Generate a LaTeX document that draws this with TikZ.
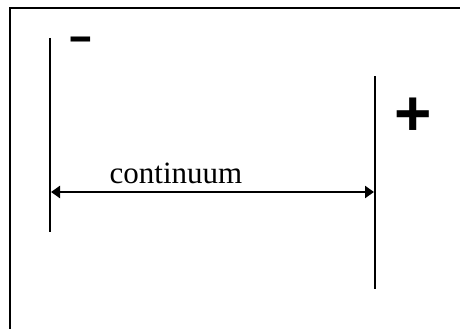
\documentclass[tikz,border=0pt]{standalone}
\usepackage{fontspec}
\setmainfont{Liberation Serif}
\newfontfamily\signfont{Liberation Sans}
\usetikzlibrary{arrows.meta}
\begin{document}
\begin{tikzpicture}[x=1pt,y=-1pt,
  frameline/.style={line width=2.8pt},
  bar/.style={line width=2.8pt},
  span/.style={line width=2.8pt,{Triangle[length=9pt,width=12pt]}-{Triangle[length=9pt,width=12pt]}},
  lbl/.style={inner sep=0pt,font=\fontsize{31}{31}\selectfont},
  sign/.style={inner sep=0pt,font=\signfont\fontsize{64}{64}\selectfont},
  boldsign/.style={inner sep=0pt,font=\signfont\bfseries\fontsize{64}{64}\selectfont}]
\useasboundingbox (0,0) rectangle (460,329);
\coordinate (ftop) at (460,8);
\coordinate (fcorner) at (10,8);
\coordinate (fbot) at (10,329);
\draw[frameline] (ftop) -- (fcorner) -- (fbot);
\coordinate (lt) at (50,38);
\coordinate (lb) at (50,232);
\coordinate (rt) at (375,76);
\coordinate (rb) at (375,289);
\draw[bar] (lt) -- (lb);
\draw[bar] (rt) -- (rb);
\coordinate (al) at (51,192);
\coordinate (ar) at (374,192);
\draw[span] (al) -- (ar);
\node[lbl,anchor=base] (cont) at (176,183) {continuum};
\node[sign,xscale=1.25] (minus) at (81,47) {-};
\node[boldsign] (plus) at (413,117) {+};
\end{tikzpicture}
\end{document}
